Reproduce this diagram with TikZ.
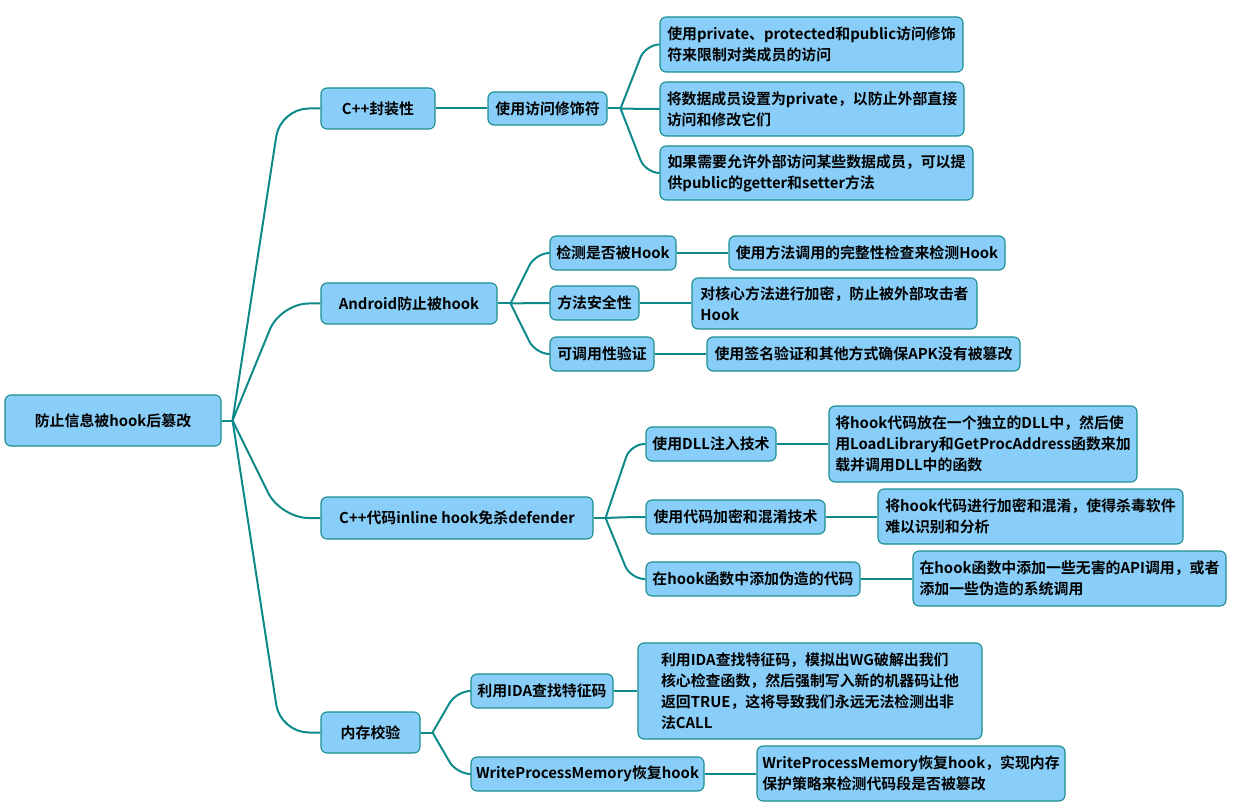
\documentclass[tikz,border=0pt]{standalone}
\usepackage{fontspec}
\setmainfont{Noto Sans CJK SC}[BoldFont={Noto Sans CJK SC Bold}]
\usetikzlibrary{calc}
\definecolor{boxfill}{HTML}{88CEF8}
\definecolor{boxline}{HTML}{1A8E8E}
\definecolor{connline}{HTML}{0E8A8A}
\begin{document}
\begin{tikzpicture}[x=1pt,y=-1pt,
  box/.style={draw=boxline,fill=boxfill,line width=1.1pt,rounded corners=6pt,
    font=\fontsize{14.9}{21}\selectfont\bfseries,align=left,inner sep=0pt,text=black},
  conn/.style={draw=connline,line width=2pt}
]
\useasboundingbox (0,0) rectangle (1237,810);
% root
\node[box,minimum width=216,minimum height=51] (root) at (113,420.5) {防止信息被hook后篡改};
% level 1
\node[box,minimum width=114,minimum height=41] (c1) at (378,108.5) {C++封装性};
\node[box,minimum width=176,minimum height=41] (c2) at (409,303.5) {Android防止被hook};
\node[box,minimum width=272,minimum height=42] (c3) at (457,518) {C++代码inline hook免杀defender};
\node[box,minimum width=99,minimum height=41] (c4) at (370.5,732.5) {内存校验};
% level 2
\node[box,minimum width=119,minimum height=33] (c1a) at (547.5,108.5) {使用访问修饰符};
\node[box,minimum width=126,minimum height=34] (c2a) at (613,253) {检测是否被Hook};
\node[box,minimum width=89,minimum height=34] (c2b) at (594.5,303) {方法安全性};
\node[box,minimum width=104,minimum height=34] (c2c) at (602,354) {可调用性验证};
\node[box,minimum width=130,minimum height=34] (c3a) at (711,444) {使用DLL注入技术};
\node[box,minimum width=179,minimum height=34] (c3b) at (735.5,517) {使用代码加密和混淆技术};
\node[box,minimum width=214,minimum height=34] (c3c) at (753,579) {在hook函数中添加伪造的代码};
\node[box,minimum width=142,minimum height=34] (c4a) at (542,691) {利用IDA查找特征码};
\node[box,minimum width=233,minimum height=34] (c4b) at (587.5,774) {WriteProcessMemory恢复hook};
% leaves
\node[box,minimum width=303,minimum height=55] (l1) at (811.5,44.5) {使用private、protected和public访问修饰\\符来限制对类成员的访问};
\node[box,minimum width=304,minimum height=54] (l2) at (812,109) {将数据成员设置为private，以防止外部直接\\访问和修改它们};
\node[box,minimum width=313,minimum height=54] (l3) at (816.5,173) {如果需要允许外部访问某些数据成员，可以提\\供public的getter和setter方法};
\node[box,minimum width=276,minimum height=34] (l2a) at (867,253) {使用方法调用的完整性检查来检测Hook};
\node[box,minimum width=285,minimum height=51] (l2b) at (834.5,303.5) {对核心方法进行加密，防止被外部攻击者\\Hook};
\node[box,minimum width=313,minimum height=34] (l2c) at (863.5,354) {使用签名验证和其他方式确保APK没有被篡改};
\node[box,minimum width=308,minimum height=76] (l3a) at (983,444) {将hook代码放在一个独立的DLL中，然后使\\用LoadLibrary和GetProcAddress函数来加\\载并调用DLL中的函数};
\node[box,minimum width=305,minimum height=55] (l3b) at (1030.5,516.5) {将hook代码进行加密和混淆，使得杀毒软件\\难以识别和分析};
\node[box,minimum width=313,minimum height=55] (l3c) at (1069.5,578.5) {在hook函数中添加一些无害的API调用，或者\\添加一些伪造的系统调用};
\node[box,minimum width=344,minimum height=96] (l4a) at (810,691) {利用IDA查找特征码，模拟出WG破解出我们\\核心检查函数，然后强制写入新的机器码让他\\返回TRUE，这将导致我们永远无法检测出非\\法CALL};
\node[box,minimum width=308,minimum height=55] (l4b) at (911,773.5) {WriteProcessMemory恢复hook，实现内存\\保护策略来检测代码段是否被篡改};
% root connectors
\coordinate (rf) at ([xshift=11pt]root.east);
\coordinate (rk) at ([xshift=59pt]root.east);
\draw[conn] (root.east) -- (rf);
\foreach \c in {c1,c2,c3,c4}
  \draw[conn,rounded corners=28pt] (rf) -- (rk |- \c.west) -- (\c.west);
% level 1 -> level 2
\draw[conn] (c1.east) -- (c1a.west);
\coordinate (f1a) at ([xshift=13pt]c1a.east);
\coordinate (k1a) at ([xshift=38pt]c1a.east);
\draw[conn] (c1a.east) -- (f1a);
\foreach \c in {l1,l2,l3}
  \draw[conn,rounded corners=14pt] (f1a) -- (k1a |- \c.west) -- (\c.west);
\coordinate (f2) at ([xshift=13pt]c2.east);
\coordinate (k2) at ([xshift=38pt]c2.east);
\draw[conn] (c2.east) -- (f2);
\foreach \c in {c2a,c2b,c2c}
  \draw[conn,rounded corners=14pt] (f2) -- (k2 |- \c.west) -- (\c.west);
\coordinate (f3) at ([xshift=12pt]c3.east);
\coordinate (k3) at ([xshift=37pt]c3.east);
\draw[conn] (c3.east) -- (f3);
\foreach \c in {c3a,c3b,c3c}
  \draw[conn,rounded corners=14pt] (f3) -- (k3 |- \c.west) -- (\c.west);
\coordinate (f4) at ([xshift=12pt]c4.east);
\coordinate (k4) at ([xshift=36pt]c4.east);
\draw[conn] (c4.east) -- (f4);
\foreach \c in {c4a,c4b}
  \draw[conn,rounded corners=14pt] (f4) -- (k4 |- \c.west) -- (\c.west);
% level 2 -> leaves
\draw[conn] (c2a.east) -- (c2a.east -| l2a.west);
\draw[conn] (c2b.east) -- (c2b.east -| l2b.west);
\draw[conn] (c2c.east) -- (c2c.east -| l2c.west);
\draw[conn] (c3a.east) -- (c3a.east -| l3a.west);
\draw[conn] (c3b.east) -- (c3b.east -| l3b.west);
\draw[conn] (c3c.east) -- (c3c.east -| l3c.west);
\draw[conn] (c4a.east) -- (c4a.east -| l4a.west);
\draw[conn] (c4b.east) -- (c4b.east -| l4b.west);
\end{tikzpicture}
\end{document}
